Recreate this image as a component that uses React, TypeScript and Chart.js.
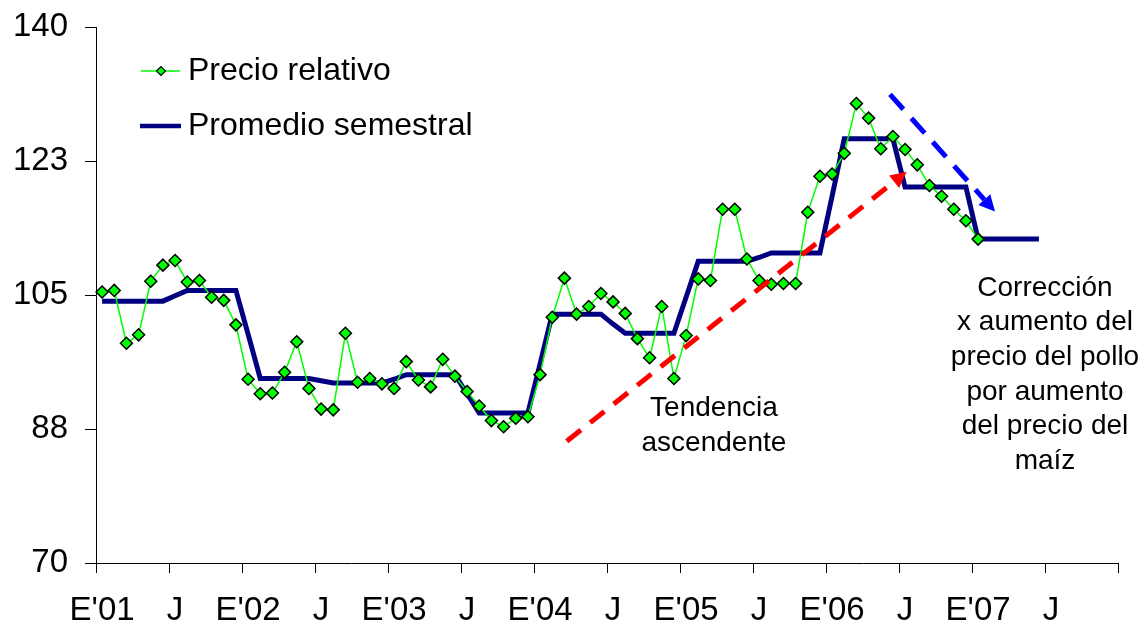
import React, { useEffect, useRef } from 'react';
import { Chart, registerables } from 'chart.js';

Chart.register(...registerables);

const FONT = '"Liberation Sans", Arial, Helvetica, sans-serif';

const years = ['2001', '2002', '2003', '2004', '2005', '2006', '2007'];
const monthNames = ['Ene', 'Feb', 'Mar', 'Abr', 'May', 'Jun', 'Jul', 'Ago', 'Sep', 'Oct', 'Nov', 'Dic'];
const categories: string[] = years.flatMap((yr) => monthNames.map((m) => `${m} ${yr}`));

const tickLabels = ["E'01", 'J', "E'02", 'J', "E'03", 'J', "E'04", 'J', "E'05", 'J', "E'06", 'J', "E'07", 'J'];

const yTicks = [70, 87.5, 105, 122.5, 140];

const precioRelativo = [
  105.4, 105.6, 98.7, 99.8, 106.8, 108.9, 109.5, 106.7, 106.9, 104.7, 104.3, 101.1,
  94.0, 92.1, 92.2, 94.9, 98.9, 92.8, 90.1, 90.0, 100.0, 93.6, 94.1, 93.4,
  92.8, 96.3, 93.9, 93.0, 96.6, 94.4, 92.4, 90.5, 88.6, 87.8, 88.9, 89.1,
  94.6, 102.1, 107.2, 102.5, 103.5, 105.2, 104.1, 102.6, 99.3, 96.8, 103.5, 94.1,
  99.7, 107.1, 106.9, 116.2, 116.2, 109.7, 106.9, 106.4, 106.5, 106.5, 115.8, 120.5,
  120.8, 123.5, 130.0, 128.1, 124.1, 125.7, 124.0, 122.0, 119.3, 117.9, 116.2, 114.7,
  112.3,
];

const promedioSemestral = [
  104.2, 104.2, 104.2, 104.2, 104.2, 104.2, 104.9, 105.6, 105.6, 105.6, 105.6, 105.6,
  99.9, 94.1, 94.1, 94.1, 94.1, 94.1, 93.8, 93.5, 93.5, 93.5, 93.5, 93.5,
  94.0, 94.6, 94.6, 94.6, 94.6, 94.6, 92.1, 89.6, 89.6, 89.6, 89.6, 89.6,
  96.0, 102.5, 102.5, 102.5, 102.5, 102.5, 101.2, 100.0, 100.0, 100.0, 100.0, 100.0,
  104.7, 109.4, 109.4, 109.4, 109.4, 109.4, 109.9, 110.5, 110.5, 110.5, 110.5, 110.5,
  117.9, 125.4, 125.4, 125.4, 125.4, 125.4, 119.1, 119.1, 119.1, 119.1, 119.1, 119.1,
  112.3, 112.3, 112.3, 112.3, 112.3, 112.3,
];

const seriesNames = ['Precio relativo', 'Promedio semestral'];

// annotation anchors in data coordinates (category index, value)
const trendArrow = { from: [38.19, 85.9], to: [66.13, 121.1] };
const correctionArrow = { from: [64.76, 131.2], to: [73.39, 115.9] };
const trendText = { at: [50.29, 89.15], lines: ['Tendencia', 'ascendente'] };
const correctionText = {
  at: [77.5, 104.9],
  lines: ['Corrección', 'x aumento del', 'precio del pollo', 'por aumento', 'del precio del', 'maíz'],
};

function drawArrow(
  ctx: CanvasRenderingContext2D,
  x0: number, y0: number, x1: number, y1: number,
  color: string, dash: number[], width: number, headLen: number, headW: number
) {
  const ang = Math.atan2(y1 - y0, x1 - x0);
  const bx = x1 - headLen * Math.cos(ang);
  const by = y1 - headLen * Math.sin(ang);
  ctx.save();
  ctx.strokeStyle = color;
  ctx.lineWidth = width;
  ctx.lineCap = 'butt';
  ctx.setLineDash(dash);
  ctx.beginPath();
  ctx.moveTo(x0, y0);
  ctx.lineTo(bx, by);
  ctx.stroke();
  ctx.setLineDash([]);
  ctx.fillStyle = color;
  ctx.beginPath();
  ctx.moveTo(x1, y1);
  ctx.lineTo(bx + (headW / 2) * Math.sin(ang), by - (headW / 2) * Math.cos(ang));
  ctx.lineTo(bx - (headW / 2) * Math.sin(ang), by + (headW / 2) * Math.cos(ang));
  ctx.closePath();
  ctx.fill();
  ctx.restore();
}

const overlayPlugin = {
  id: 'overlay',
  afterDatasetsDraw(chart: any) {
    const { ctx, chartArea, scales } = chart;
    const xs = scales.x;
    const ys = scales.y;
    const px = (i: number) => xs.getPixelForValue(i);
    const py = (v: number) => ys.getPixelForValue(v);

    drawArrow(ctx, px(trendArrow.from[0]), py(trendArrow.from[1]), px(trendArrow.to[0]), py(trendArrow.to[1]),
      '#FF0000', [18, 12], 5, 16, 16);
    drawArrow(ctx, px(correctionArrow.from[0]), py(correctionArrow.from[1]), px(correctionArrow.to[0]), py(correctionArrow.to[1]),
      '#0000FF', [20, 12], 5, 16, 16);

    ctx.save();
    ctx.fillStyle = '#000';
    ctx.font = `28px ${FONT}`;
    ctx.textAlign = 'center';
    ctx.textBaseline = 'alphabetic';
    const lh = 34.6;
    trendText.lines.forEach((t, k) => ctx.fillText(t, px(trendText.at[0]), py(trendText.at[1]) + k * lh));
    correctionText.lines.forEach((t, k) => ctx.fillText(t, px(correctionText.at[0]), py(correctionText.at[1]) + k * lh));
    ctx.restore();

    // legend
    const lx = chartArea.left;
    const ty = chartArea.top;
    ctx.save();
    const r1 = ty + 44;
    ctx.strokeStyle = '#00FF00';
    ctx.lineWidth = 1.5;
    ctx.beginPath();
    ctx.moveTo(lx + 45, r1);
    ctx.lineTo(lx + 84, r1);
    ctx.stroke();
    const cx = lx + 65;
    ctx.beginPath();
    ctx.moveTo(cx - 4.5, r1);
    ctx.lineTo(cx, r1 - 4.5);
    ctx.lineTo(cx + 4.5, r1);
    ctx.lineTo(cx, r1 + 4.5);
    ctx.closePath();
    ctx.fillStyle = '#00FF00';
    ctx.fill();
    ctx.strokeStyle = '#000';
    ctx.lineWidth = 1.2;
    ctx.stroke();
    const r2 = ty + 99;
    ctx.strokeStyle = '#000080';
    ctx.lineWidth = 4.5;
    ctx.beginPath();
    ctx.moveTo(lx + 44, r2);
    ctx.lineTo(lx + 85, r2);
    ctx.stroke();
    ctx.fillStyle = '#000';
    ctx.font = `32px ${FONT}`;
    ctx.textAlign = 'left';
    ctx.textBaseline = 'middle';
    ctx.fillText(seriesNames[0], lx + 92, r1);
    ctx.fillText(seriesNames[1], lx + 92, r2);
    ctx.restore();
  },
};

export default function App() {
  const canvasRef = useRef<HTMLCanvasElement | null>(null);

  useEffect(() => {
    const canvas = canvasRef.current;
    if (!canvas) return;
    const chart = new Chart(canvas, {
      type: 'line',
      data: {
        labels: categories,
        datasets: [
          {
            label: seriesNames[0],
            data: precioRelativo,
            borderColor: '#00FF00',
            backgroundColor: '#00FF00',
            borderWidth: 1.5,
            pointStyle: 'rectRot',
            pointRadius: 6,
            pointBorderWidth: 1.5,
            pointBackgroundColor: '#00FF00',
            pointBorderColor: '#000000',
            tension: 0,
            fill: false,
          },
          {
            label: seriesNames[1],
            data: promedioSemestral,
            borderColor: '#000080',
            backgroundColor: '#000080',
            borderWidth: 5,
            pointRadius: 0,
            tension: 0,
            fill: false,
            borderJoinStyle: 'miter',
          },
        ],
      },
      options: {
        responsive: false,
        animation: false,
        events: [],
        layout: { padding: { left: 0, top: 27, right: 27, bottom: 0 } },
        plugins: {
          legend: { display: false },
          tooltip: { enabled: false },
          title: { display: false },
        },
        scales: {
          x: {
            type: 'category',
            offset: true,
            grid: {
              offset: true,
              drawOnChartArea: false,
              drawTicks: true,
              tickLength: 10,
              tickWidth: 1,
              tickColor: (c: any) => (c.index === undefined || c.index % 6 === 0 ? '#000' : 'rgba(0,0,0,0)'),
              color: (c: any) => (c.index === undefined || c.index % 6 === 0 ? '#000' : 'rgba(0,0,0,0)'),
            },
            border: { display: true, color: '#000', width: 1 },
            ticks: {
              autoSkip: false,
              maxRotation: 0,
              minRotation: 0,
              padding: 18,
              color: '#000',
              font: { family: FONT, size: 33 },
              callback: (_v: any, index: number) => (index % 6 === 0 ? tickLabels[index / 6] : ''),
            },
            afterFit: (scale: any) => {
              scale.height = 64;
              scale.paddingLeft = 0;
              scale.paddingRight = 0;
            },
          },
          y: {
            type: 'linear',
            min: 70,
            max: 140,
            afterBuildTicks: (scale: any) => {
              scale.ticks = yTicks.map((v) => ({ value: v }));
            },
            grid: {
              drawOnChartArea: false,
              drawTicks: true,
              tickLength: 11,
              tickWidth: 1,
              color: '#000',
              tickColor: '#000',
            },
            border: { display: true, color: '#000', width: 1 },
            ticks: {
              padding: 17,
              color: '#000',
              font: { family: FONT, size: 33 },
              callback: (v: any) => String(Math.round(Number(v))),
            },
            afterFit: (scale: any) => {
              scale.width = 96;
              scale.paddingTop = 0;
              scale.paddingBottom = 0;
            },
          },
        },
      },
      plugins: [overlayPlugin],
    });
    return () => chart.destroy();
  }, []);

  return (
    <div style={{ position: 'absolute', left: 0, top: 0, width: 1145, height: 627, background: '#fff' }}>
      <canvas ref={canvasRef} width={1145} height={627} style={{ display: 'block' }} />
    </div>
  );
}
